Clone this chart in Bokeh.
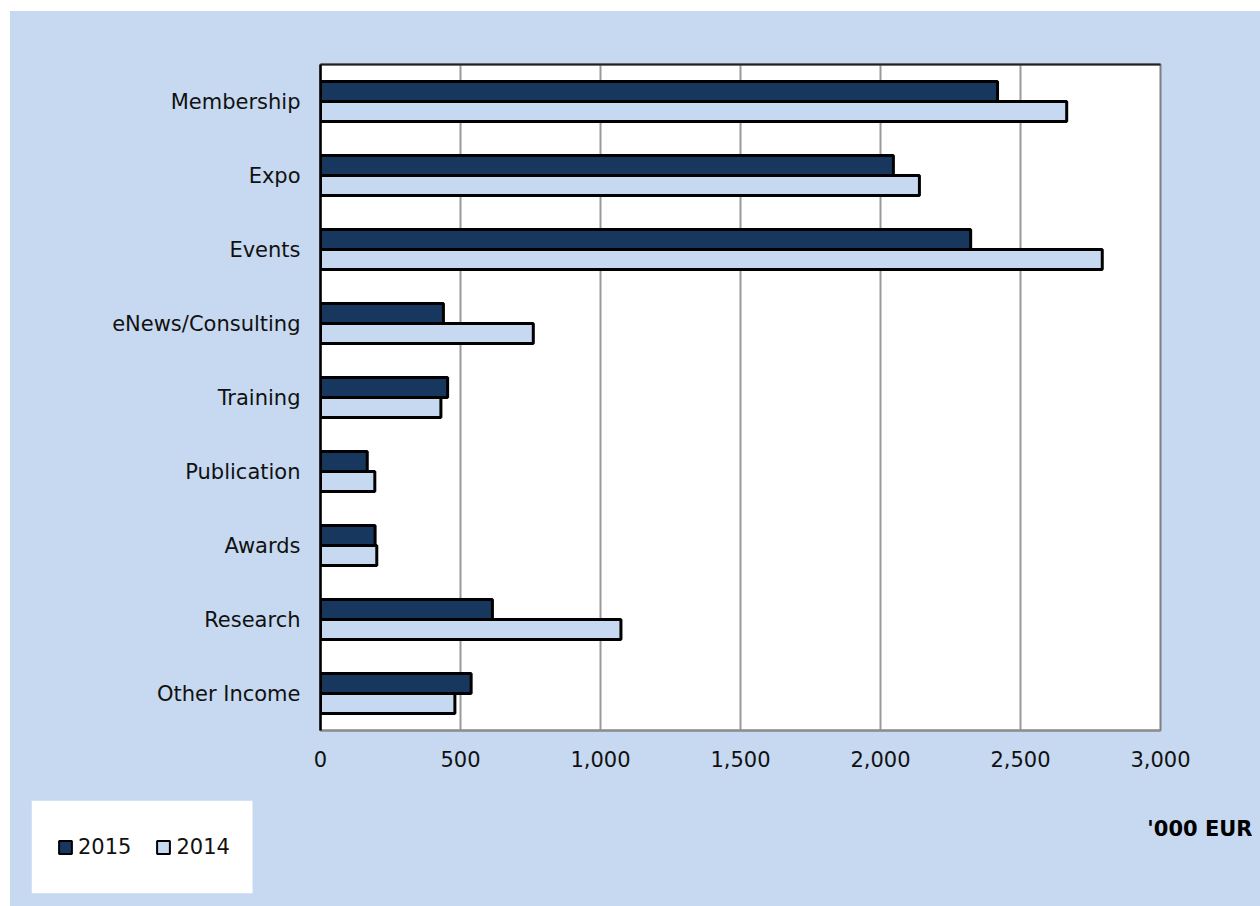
from bokeh.plotting import figure
from bokeh.models import (ColumnDataSource, FactorRange, Range1d, Legend, LegendItem, Label,
                          BoxAnnotation, NumeralTickFormatter, FixedTicker, Spacer, LinearAxis)
from bokeh.layouts import column, row
from bokeh.transform import dodge
from bokeh.embed import file_html
from bokeh.resources import INLINE

categories = ["Membership", "Expo", "Events", "eNews/Consulting", "Training",
              "Publication", "Awards", "Research", "Other Income"]
values_2015 = [2418, 2046, 2322, 439, 454, 167, 195, 614, 538]
values_2014 = [2665, 2139, 2792, 760, 430, 194, 201, 1073, 480]
x_ticks = [0, 500, 1000, 1500, 2000, 2500, 3000]
series_names = ["2015", "2014"]
unit_label = "'000 EUR"

BG = "#C6D9F1"
DARK = "#17375E"
LIGHT = "#C6D9F1"
FONT = "DejaVu Sans"
FS = "21px"

source = ColumnDataSource(dict(cat=categories, v2015=values_2015, v2014=values_2014))

# ---- main chart ----
p = figure(width=1250, height=779, output_backend="svg", toolbar_location=None,
           y_range=FactorRange(factors=list(reversed(categories)), range_padding=0),
           x_range=Range1d(0, 3000))
p.min_border_left = 310
p.min_border_right = 100
p.min_border_top = 53
p.min_border_bottom = 60
p.border_fill_color = BG
p.background_fill_color = "white"
p.outline_line_color = "#7f7f7f"
p.outline_line_width = 2

r15 = p.hbar(y=dodge("cat", 0.135, range=p.y_range), right="v2015", left=0, height=0.27,
             source=source, fill_color=DARK, line_color="black", line_width=3)
r14 = p.hbar(y=dodge("cat", -0.135, range=p.y_range), right="v2014", left=0, height=0.27,
             source=source, fill_color=LIGHT, line_color="black", line_width=3)

p.ygrid.visible = False
p.xgrid.grid_line_color = "#999999"
p.xgrid.grid_line_width = 2

p.xaxis.ticker = FixedTicker(ticks=x_ticks)
p.xaxis.formatter = NumeralTickFormatter(format="0,0")
for ax in (p.xaxis[0], p.yaxis[0]):
    ax.major_tick_line_color = None
    ax.minor_tick_line_color = None
    ax.major_label_text_font = FONT
    ax.major_label_text_font_size = FS
    ax.major_label_text_color = "#111111"
p.xaxis.axis_line_color = "#8c8c8c"
p.xaxis.axis_line_width = 2
p.xaxis.major_label_standoff = 14
p.yaxis.axis_line_color = "black"
p.yaxis.axis_line_width = 2.5
p.yaxis.major_label_standoff = 14

top_axis = LinearAxis(ticker=FixedTicker(ticks=[]), major_tick_line_color=None,
                      minor_tick_line_color=None, axis_line_color="#222222", axis_line_width=2)
p.add_layout(top_axis, "above")

# ---- bottom strip with legend and unit label ----
q = figure(width=1250, height=116, output_backend="svg", toolbar_location=None,
           x_range=Range1d(0, 3000), y_range=FactorRange(factors=list(reversed(categories))))
q.min_border_left = 21
q.min_border_right = 8
q.min_border_top = 10
q.min_border_bottom = 13
q.border_fill_color = BG
q.background_fill_color = None
q.outline_line_color = None
q.axis.visible = False
q.grid.visible = False
for fig in (p, q):
    if "frame_align" in fig.properties():
        fig.frame_align = False

box = BoxAnnotation(right=221, right_units="screen",
                    fill_color="white", fill_alpha=1.0, line_color=None, level="underlay")
q.add_layout(box)

# legend swatches: same series, renderers hidden in this strip
l15 = q.hbar(y="cat", right="v2015", left=0, height=0.5, source=source,
             fill_color=DARK, line_color="black", line_width=2, visible=False)
l14 = q.hbar(y="cat", right="v2014", left=0, height=0.5, source=source,
             fill_color=LIGHT, line_color="black", line_width=2, visible=False)

legend = Legend(items=[LegendItem(label=series_names[0], renderers=[l15]),
                       LegendItem(label=series_names[1], renderers=[l14])],
                location=(26, 34), orientation="horizontal",
                padding=0, margin=0, spacing=24, label_standoff=5,
                glyph_width=16, glyph_height=16, label_height=16,
                background_fill_alpha=0, border_line_color=None,
                label_text_font=FONT, label_text_font_size=FS, label_text_color="#111111")
q.add_layout(legend, "center")

lbl = Label(x=1221, y=65, x_units="screen", y_units="screen", text=unit_label,
            text_font=FONT, text_font_size=FS, text_font_style="bold",
            text_align="right", text_baseline="middle", text_color="black")
q.add_layout(lbl)

inner = column(p, q, spacing=0, styles={"background-color": BG})
layout = column(Spacer(height=11, width=1260),
                row(Spacer(width=10, height=895), inner, spacing=0),
                spacing=0)

open("out.html", "w").write(file_html(layout, INLINE))
